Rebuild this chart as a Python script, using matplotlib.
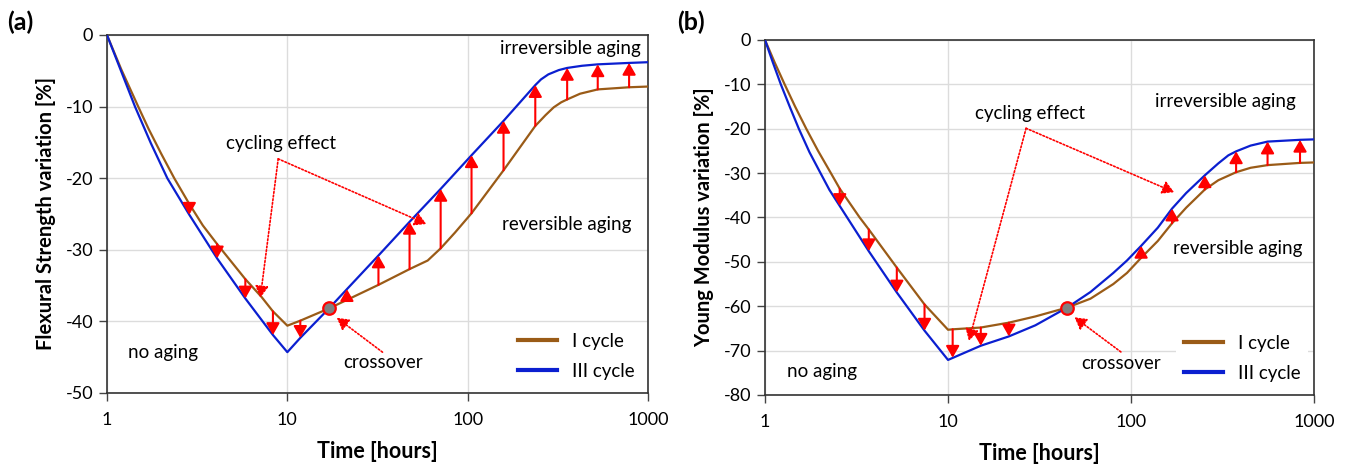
import numpy as np
import matplotlib.pyplot as plt
from matplotlib.ticker import NullLocator

plt.rcParams['font.family'] = ['Lato', 'DejaVu Sans']
plt.rcParams['axes.unicode_minus'] = False

BROWN = '#9a5b17'
BLUE = '#0b1fd0'

# (a) Flexural strength
a_x1 = [1, 1.2, 1.49, 1.7, 2.0, 2.36, 2.86, 3.4, 4.08, 5.85, 7.2, 8.32, 10, 11.8, 17, 21.4, 32, 47.6, 60,
        70.8, 85, 105, 158, 237, 270, 300, 330, 356, 420, 526, 785, 1000]
a_y1 = [0, -4.8, -10, -13.1, -16.6, -20, -23.6, -26.6, -29.2, -34.1, -36.6, -38.6, -40.6, -39.9, -38.2, -37,
        -34.9, -32.7, -31.5, -29.8, -27.6, -24.9, -18.9, -12.7, -11.2, -10.1, -9.4, -9, -8.2, -7.6, -7.3, -7.2]
a_x3 = [1, 1.2, 1.43, 1.75, 2.16, 2.86, 4.08, 5.85, 8.32, 10, 11.8, 17, 21.4, 32, 47.6, 70.8, 105, 158, 237,
        255, 280, 320, 356, 430, 526, 785, 1000]
a_y3 = [0, -5.1, -10, -15.1, -20, -25.1, -31.2, -36.8, -41.9, -44.3, -42.3, -38.2, -35.5, -30.8, -26.1,
        -21.5, -16.8, -12.0, -7.0, -6.2, -5.5, -4.9, -4.6, -4.3, -4.1, -3.9, -3.8]
a_arrow_x = [2.86, 4.08, 5.85, 8.32, 11.8, 21.4, 32, 47.6, 70.8, 105, 158, 237, 356, 526, 785]
a_arrow_from = [-23.6, -29.2, -34.1, -38.6, -39.9, -37, -34.9, -32.7, -29.8, -24.9, -18.9, -12.7, -9, -7.6, -7.3]
a_arrow_to = [-25.1, -31.2, -36.8, -41.9, -42.3, -35.5, -30.8, -26.1, -21.5, -16.8, -12.0, -7.0, -4.6, -4.1, -3.9]
a_cross = (17, -38.2)

# (b) Young modulus
b_x1 = [1, 1.13, 1.28, 1.46, 1.68, 1.95, 2.29, 2.56, 3.29, 3.69, 5.25, 7.44, 10, 10.6, 15.1, 21.5, 30, 44.8,
        60, 80, 95, 113.5, 140, 167.5, 200, 253, 300, 375, 450, 557, 838, 1000]
b_y1 = [0, -5.1, -10, -15, -20, -25, -30, -33.5, -40, -42.7, -51.3, -59.6, -65.3, -65.2, -64.8, -63.7, -62.3,
        -60.3, -58.3, -55, -52.5, -49.1, -45.3, -41.3, -37.8, -33.7, -31.6, -29.8, -28.8, -28.2, -27.7, -27.6]
b_x3 = [1, 1.1, 1.22, 1.37, 1.53, 1.75, 2.01, 2.25, 2.56, 3.69, 5.25, 7.44, 10, 15.1, 21.5, 30, 44.8, 60, 80,
        95, 113.5, 140, 167.5, 200, 253, 300, 340, 375, 450, 557, 838, 1000]
b_y3 = [0, -4.9, -10, -15.2, -20, -25.3, -30, -33.8, -37.4, -47.6, -56.9, -65.5, -72.1, -68.9, -66.8, -64.3,
        -60.3, -56.8, -52.5, -49.7, -46.4, -42.3, -38, -34.5, -30.5, -27.8, -26, -25.1, -23.8, -22.9, -22.5, -22.4]
b_arrow_x = [2.56, 3.69, 5.25, 7.44, 10.6, 15.1, 21.5, 113.5, 167.5, 253, 375, 557, 838]
b_arrow_from = [-33.5, -42.7, -51.3, -59.6, -65.2, -64.8, -63.7, -49.1, -41.3, -33.7, -29.8, -28.2, -27.7]
b_arrow_to = [-37.4, -47.6, -56.9, -65.5, -71.6, -68.9, -66.8, -46.4, -38, -30.5, -25.1, -22.9, -22.5]
b_cross = (44.8, -60.3)


def arrow(ax, xy, xytext, dotted=False):
    props = dict(arrowstyle='-|>,head_length=0.7,head_width=0.4', color='red',
                 lw=1.2 if dotted else 1.5, shrinkA=0, shrinkB=0, mutation_scale=10)
    if dotted:
        props['linestyle'] = (0, (1, 1.2))
    ax.annotate('', xy=xy, xytext=xytext, arrowprops=props, zorder=4)


def draw_panel(ax, x1, y1, x3, y3, ax_x, ax_from, ax_to, cross, ymin, ylabel):
    ax.plot(x1, y1, color=BROWN, lw=1.6, label='I cycle', zorder=3)
    ax.plot(x3, y3, color=BLUE, lw=1.6, label='III cycle', zorder=3)
    for x, y0, y1_ in zip(ax_x, ax_from, ax_to):
        arrow(ax, (x, y1_), (x, y0))
    ax.plot(*cross, 'o', ms=9, mfc='#808080', mec='red', mew=1.6, zorder=6)

    ax.set_xscale('log')
    ax.set_xlim(1, 1000)
    ax.set_ylim(ymin, 0)
    ax.set_xticks([1, 10, 100, 1000], labels=['1', '10', '100', '1000'])
    ax.xaxis.set_minor_locator(NullLocator())
    ax.set_yticks(np.arange(ymin, 1, 10))
    ax.grid(True, color='#dcdcdc', lw=1)
    ax.set_axisbelow(True)
    for s in ax.spines.values():
        s.set_color('#333333')
        s.set_linewidth(1.2)
    ax.tick_params(axis='both', length=6, width=1, color='#444444', labelsize=13)
    ax.tick_params(axis='x', pad=8)
    ax.tick_params(axis='y', pad=4)
    ax.set_xlabel('Time [hours]', fontsize=15.5, fontweight='bold', labelpad=9)
    ax.set_ylabel(ylabel, fontsize=14.5, fontweight='bold', labelpad=7)

    leg = ax.legend(loc='lower right', fontsize=13.5, frameon=True, facecolor='white',
                    edgecolor='none', framealpha=1, handlelength=2.1, labelspacing=0.7,
                    borderaxespad=0.3, handletextpad=0.8)
    for ln in leg.get_lines():
        ln.set_linewidth(3)


fig = plt.figure(figsize=(13.49, 4.66), dpi=100)
ax1 = fig.add_axes([0.0793, 0.1567, 0.4011, 0.7682])
ax2 = fig.add_axes([0.5671, 0.1524, 0.4070, 0.7618])

draw_panel(ax1, a_x1, a_y1, a_x3, a_y3, a_arrow_x, a_arrow_from, a_arrow_to, a_cross,
           -50, 'Flexural Strength variation [%]')
draw_panel(ax2, b_x1, b_y1, b_x3, b_y3, b_arrow_x, b_arrow_from, b_arrow_to, b_cross,
           -80, 'Young Modulus variation [%]')

fs = 13.5
# annotations (a)
ax1.text(9.25, -15.2, 'cycling effect', fontsize=fs, ha='center', va='center')
arrow(ax1, (7.08, -36.7), (8.9, -17.3), dotted=True)
arrow(ax1, (59, -26.4), (8.9, -17.3), dotted=True)
ax1.text(33.8, -45.8, 'crossover', fontsize=fs, ha='center', va='center')
arrow(ax1, (18.8, -39.5), (33.7, -44.3), dotted=True)
ax1.text(2.05, -44.3, 'no aging', fontsize=fs, ha='center', va='center')
ax1.text(355, -26.4, 'reversible aging', fontsize=fs, ha='center', va='center')
ax1.text(369, -1.9, 'irreversible aging', fontsize=fs, ha='center', va='center')

# annotations (b)
ax2.text(27.9, -16.5, 'cycling effect', fontsize=fs, ha='center', va='center')
arrow(ax2, (13.0, -67.8), (26.7, -19.9), dotted=True)
arrow(ax2, (172, -34.3), (26.7, -19.9), dotted=True)
ax2.text(88, -73, 'crossover', fontsize=fs, ha='center', va='center')
arrow(ax2, (49.1, -62.5), (88, -70.3), dotted=True)
ax2.text(2.05, -74.8, 'no aging', fontsize=fs, ha='center', va='center')
ax2.text(384, -47.1, 'reversible aging', fontsize=fs, ha='center', va='center')
ax2.text(326, -13.9, 'irreversible aging', fontsize=fs, ha='center', va='center')

fig.text(0.005, 0.953, '(a)', fontsize=18, fontweight='bold', va='center')
fig.text(0.502, 0.953, '(b)', fontsize=18, fontweight='bold', va='center')

fig.savefig('out.png', dpi=100)
